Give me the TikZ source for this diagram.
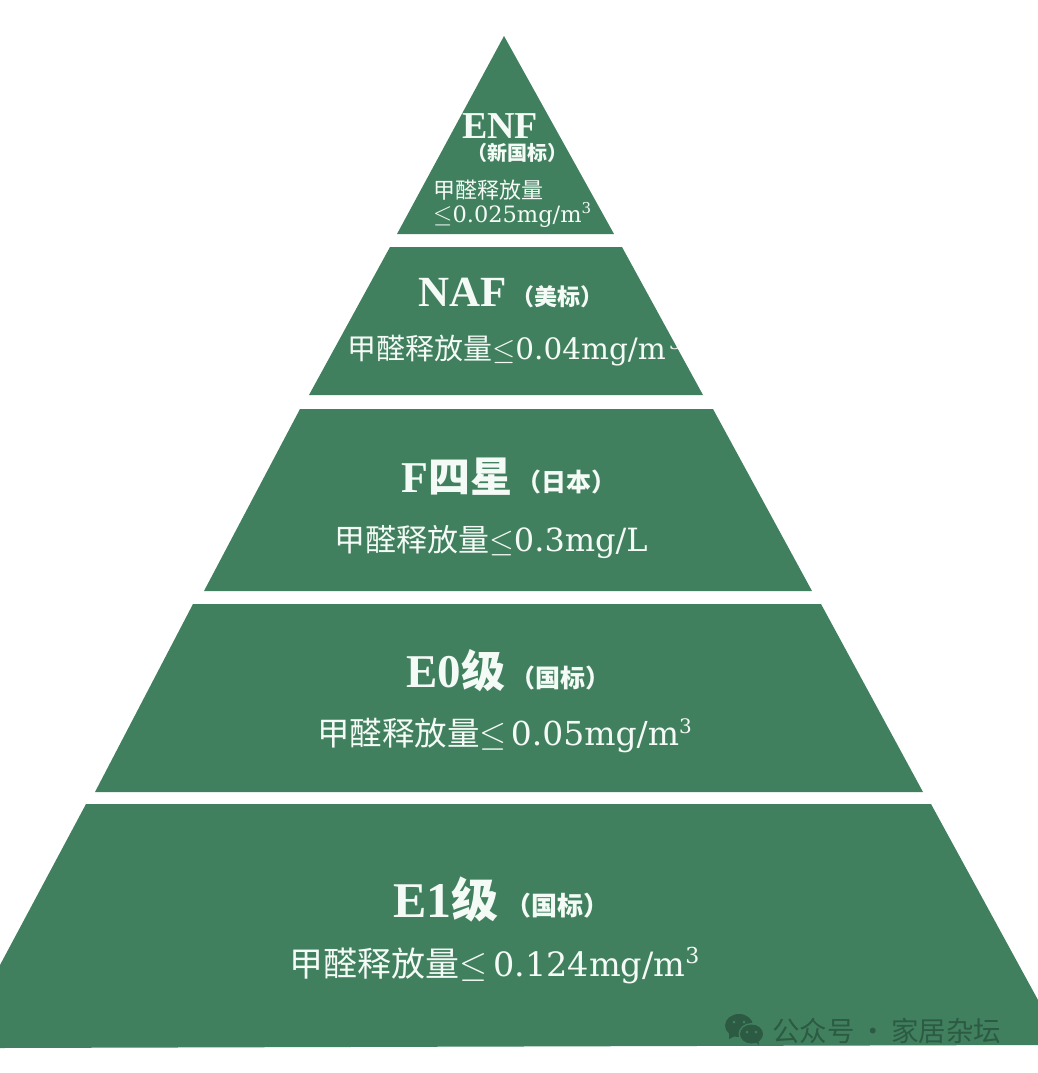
\documentclass[tikz,border=0pt]{standalone}
\usepackage{fontspec}
\setmainfont{Liberation Serif}
\newfontfamily\cjk{Noto Sans CJK SC}
\newcommand{\cjkb}{\cjk\bfseries}
\newfontfamily\dvs{DejaVu Serif}
\definecolor{pgreen}{HTML}{41805F}
\definecolor{pdark}{HTML}{2C5A43}
\definecolor{ptext}{HTML}{F4FAF5}
\newcommand{\fs}[1]{\fontsize{#1}{#1}\selectfont}
\newcommand{\myle}[1]{\scalebox{#1}{$\leq$}}
\tikzset{x=1pt,y=-1pt,
 tier/.style={fill=pgreen,draw=none},
 lab/.style={text=ptext,inner sep=0pt,anchor=base west},
}
\begin{document}
\begin{tikzpicture}
\useasboundingbox (0,0) rectangle (1038,1073);
\fill[white] (0,0) rectangle (1038,1073);
\fill[tier] (504,36) -- (614,234) -- (397,234) -- cycle;
\fill[tier] (390,247) -- (622,247) -- (703,395) -- (309,395) -- cycle;
\fill[tier] (300,409) -- (713,409) -- (812,591) -- (204,591) -- cycle;
\fill[tier] (193,604) -- (821,604) -- (923,792) -- (95,792) -- cycle;
\fill[tier] (86,804) -- (931,804) -- (1038,1000) -- (1038,1045) -- (0,1048) -- (0,965) -- cycle;
% tier 1
\node[lab] (t1a) at (462,138) {\fs{38}\bfseries ENF};
\node[lab] (t1b) at (467,160) {\fs{20}\cjkb （新国标）};
\node[lab] (t1c) at (433,198) {\fs{22}\cjk 甲醛释放量};
\node[lab] (t1d) at (433,222) {\fs{24}\myle{1}\dvs\fs{22.5}0.025mg/m\raisebox{9pt}{\fs{15}3}};
% tier 2
\node[lab] (t2a) at (418,306) {\fs{43}\bfseries NAF};
\node[lab] (t2b) at (511,305) {\fs{23}\cjkb （美标）};
\node[lab] (t2c) at (347,359) {\fs{29}{\cjk 甲醛释放量}\myle{1.2}\dvs\fs{29.5}0.04mg/m};
\begin{scope}
\clip (660,344) rectangle (690,360);
\node[lab] (t2d) at (669,349) {\dvs\fs{19}3};
\end{scope}
% tier 3
\node[lab] (t3a) at (401,492) {\fs{44}\bfseries F{\cjkb\fs{42}四星}};
\node[lab] (t3b) at (516,491) {\fs{25}\cjkb （日本）};
\node[lab] (t3c) at (334,551) {\fs{31}{\cjk 甲醛释放量}\myle{1.28}\dvs\fs{32}0.3mg/L};
% tier 4
\node[lab] (t4a) at (406,687) {\fs{47}\bfseries E0{\cjkb\fs{44}级}};
\node[lab] (t4b) at (510,687) {\fs{25}\cjkb （国标）};
\node[lab] (t4c) at (317,745) {\fs{32.5}{\cjk 甲醛释放量}\myle{1.4}\hspace{4pt}\dvs\fs{33}0.05mg/m\raisebox{12pt}{\fs{20}3}};
% tier 5
\node[lab] (t5a) at (393,917) {\fs{50}\bfseries E1{\cjkb\fs{47}级}};
\node[lab] (t5b) at (505,915) {\fs{26}\cjkb （国标）};
\node[lab] (t5c) at (289,976) {\fs{34}{\cjk 甲醛释放量}\myle{1.45}\hspace{6pt}\dvs\fs{33.5}0.124mg/m\raisebox{13pt}{\fs{22}3}};
% watermark
\fill[pdark] (739,1025.5) ellipse [x radius=14,y radius=11.5];
\fill[pdark] (729,1032) -- (729,1039) -- (737,1035) -- cycle;
\fill[pgreen] (751.5,1034) ellipse [x radius=13,y radius=11];
\fill[pdark] (751.5,1034) ellipse [x radius=11.5,y radius=9.5];
\fill[pdark] (755,1041) -- (759,1045) -- (758,1039) -- cycle;
\foreach \p in {(734,1022),(744,1022),(747,1032),(756,1032)} \fill[pgreen] \p circle (1.5);
\node[lab,text=pdark] (wm) at (772,1041) {\fs{27.5}\cjk 公众号\,·\,家居杂坛};
\end{tikzpicture}
\end{document}
